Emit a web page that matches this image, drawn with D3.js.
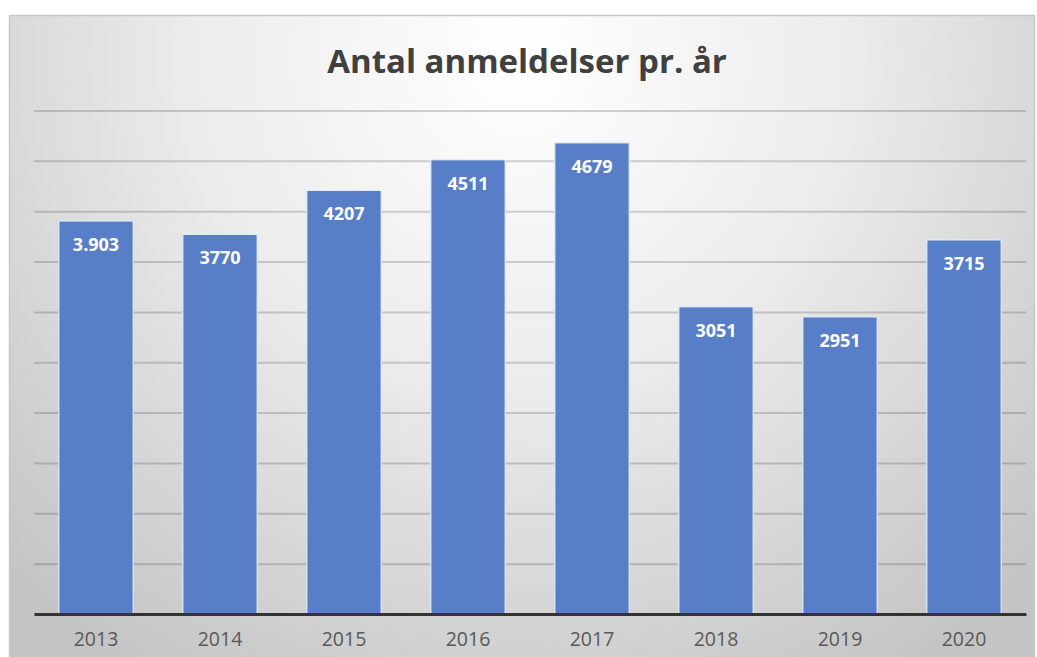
<!DOCTYPE html>
<html>
<head>
    <meta charset="utf-8">
    <title>Antal anmeldelser pr. år</title>
    <script src="https://cdn.jsdelivr.net/npm/d3@7"></script>
    <style>
        body { margin: 0; background: #ffffff; }
    </style>
</head>
<body>
    <script>
        var w = 1037;
        var h = 657;

        // data
        var years = ["2013", "2014", "2015", "2016", "2017", "2018", "2019", "2020"];
        var counts = [3903, 3770, 4207, 4511, 4679, 3051, 2951, 3715];
        var labels = ["3.903", "3770", "4207", "4511", "4679", "3051", "2951", "3715"];
        var yTicks = [0, 500, 1000, 1500, 2000, 2500, 3000, 3500, 4000, 4500, 5000];

        var plot = { left: 34, right: 1026, top: 110.5, bottom: 614 };

        var svg = d3.select("body").append("svg")
                    .attr("width", w)
                    .attr("height", h);

        // radial background like the office chart
        var defs = svg.append("defs");
        var grad = defs.append("radialGradient")
            .attr("id", "bg")
            .attr("gradientUnits", "userSpaceOnUse")
            .attr("cx", 520).attr("cy", 60).attr("r", 720);
        grad.append("stop").attr("offset", "0%").attr("stop-color", "#ffffff");
        grad.append("stop").attr("offset", "45%").attr("stop-color", "#ececec");
        grad.append("stop").attr("offset", "100%").attr("stop-color", "#c4c4c4");

        svg.append("rect")
            .attr("x", 9.5).attr("y", 15.5)
            .attr("width", 1025).attr("height", 660)
            .attr("fill", "url(#bg)")
            .attr("stroke", "#c8c8c8")
            .attr("stroke-width", 1.5);

        var x = d3.scaleBand()
            .domain(years)
            .range([plot.left, plot.right])
            .paddingInner(0.4)
            .paddingOuter(0.2);

        var y = d3.scaleLinear()
            .domain([0, 5000])
            .range([plot.bottom, plot.top]);

        // gridlines, semi transparent so they darken with the background
        svg.append("g")
            .attr("transform", "translate(" + plot.left + ",0)")
            .call(d3.axisLeft(y).tickValues(yTicks.slice(1)).tickSize(-(plot.right - plot.left)).tickFormat(""))
            .call(function(g) {
                g.select(".domain").remove();
                g.selectAll("line").attr("stroke", "#000000").attr("stroke-opacity", 0.17).attr("stroke-width", 2);
            });

        // bars
        svg.selectAll("rect.bar")
            .data(counts)
            .enter()
            .append("rect")
            .attr("class", "bar")
            .attr("x", function(d, i) { return x(years[i]); })
            .attr("y", function(d) { return y(d); })
            .attr("width", x.bandwidth())
            .attr("height", function(d) { return y(0) - y(d); })
            .attr("fill", "#587ec8")
            .attr("stroke", "#e8eef8")
            .attr("stroke-width", 1.2);

        // value labels
        svg.selectAll("text.val")
            .data(counts)
            .enter()
            .append("text")
            .attr("class", "val")
            .text(function(d, i) { return labels[i]; })
            .attr("x", function(d, i) { return x(years[i]) + x.bandwidth() / 2; })
            .attr("y", function(d) { return y(d) + 30; })
            .attr("text-anchor", "middle")
            .attr("font-family", "Open Sans, sans-serif")
            .attr("font-weight", "bold")
            .attr("font-size", 18)
            .attr("fill", "#ffffff");

        // x axis
        var xAxis = svg.append("g")
            .attr("transform", "translate(0," + plot.bottom + ")")
            .call(d3.axisBottom(x).tickSize(0).tickPadding(18));
        xAxis.select(".domain").attr("stroke", "#333333").attr("stroke-width", 3);
        xAxis.selectAll("text")
            .attr("font-family", "Open Sans, sans-serif")
            .attr("font-size", 19.5)
            .attr("fill", "#595959");

        // title
        svg.append("text")
            .text("Antal anmeldelser pr. år")
            .attr("x", 527)
            .attr("y", 73)
            .attr("text-anchor", "middle")
            .attr("font-family", "Open Sans, sans-serif")
            .attr("font-weight", "bold")
            .attr("font-size", 33)
            .attr("fill", "#404040");
    </script>
</body>
</html>
